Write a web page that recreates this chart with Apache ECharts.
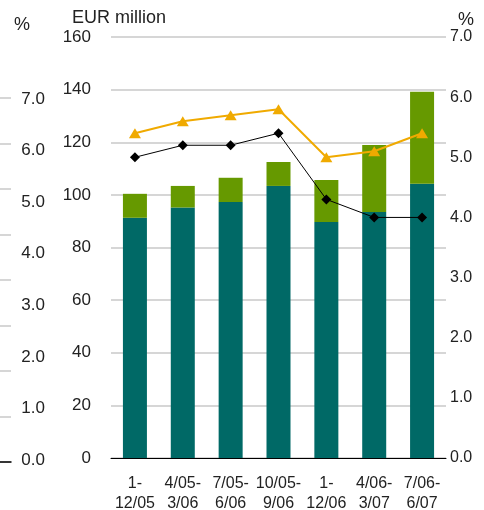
<!DOCTYPE html>
<html><head><meta charset="utf-8">
<script src="https://cdn.jsdelivr.net/npm/echarts@6/dist/echarts.min.js"></script>
<style>html,body{margin:0;padding:0;background:#fff}#c{width:484px;height:510px}</style>
</head><body><div id="c"></div>
<script>
var categories = ['1-\n12/05','4/05-\n3/06','7/05-\n6/06','10/05-\n9/06','1-\n12/06','4/06-\n3/07','7/06-\n6/07'];
var tealValues = [91.3, 95.2, 97.3, 103.4, 89.7, 93.5, 104.2];
var greenValues = [9.1, 8.2, 9.2, 9.1, 16.0, 25.5, 35.0];
var orangeLine = [5.4, 5.6, 5.7, 5.8, 5.0, 5.1, 5.4];
var blackLine = [5.0, 5.2, 5.2, 5.4, 4.3, 4.0, 4.0];
var eurTicks = [0, 160, 20];
var pctTicks = [0, 7, 1];

var NUM = '"Liberation Sans Narrow","Liberation Sans",Arial,sans-serif';
var TXT = '"Liberation Sans",Arial,sans-serif';
var chart = echarts.init(document.getElementById('c'), null, {renderer:'canvas'});
chart.setOption({
  animation:false,
  title:[
    {text:'EUR million', left:67, top:4, textStyle:{fontFamily:TXT,fontSize:18,fontWeight:'normal',color:'#222'}},
    {text:'%', left:9, top:11, textStyle:{fontFamily:TXT,fontSize:18,fontWeight:'normal',color:'#222'}},
    {text:'%', left:453, top:6, textStyle:{fontFamily:TXT,fontSize:18,fontWeight:'normal',color:'#222'}}
  ],
  grid:[
    {left:111, right:38, top:37, bottom:52, containLabel:false, outerBoundsMode:'none'},
    {left:46, width:1, top:99, bottom:50, containLabel:false, outerBoundsMode:'none'},
    {left:0, width:11, top:98, bottom:48, containLabel:false, outerBoundsMode:'none'}
  ],
  xAxis:[
    {type:'category', gridIndex:0, data:categories,
     axisLine:{lineStyle:{color:'#000',width:1}}, axisTick:{show:false},
     axisLabel:{margin:16, fontFamily:TXT, fontSize:16, color:'#222', lineHeight:20, interval:0}},
    {type:'value', gridIndex:1, show:false},
    {type:'value', gridIndex:2, min:0, max:1, axisLine:{show:true,lineStyle:{color:'#000',width:1.5}}, axisTick:{show:false}, axisLabel:{show:false}, splitLine:{show:false}}
  ],
  yAxis:[
    {type:'value', gridIndex:0, min:eurTicks[0], max:eurTicks[1], interval:eurTicks[2], position:'left',
     axisLine:{show:false}, axisTick:{show:false},
     axisLabel:{margin:20, fontFamily:NUM, fontSize:17, color:'#222'},
     splitLine:{lineStyle:{color:'#c8c8c8', width:1.5}}},
    {type:'value', gridIndex:0, min:pctTicks[0], max:pctTicks[1], interval:pctTicks[2], position:'right', offset:-6,
     axisLine:{show:false}, axisTick:{show:false}, splitLine:{show:false},
     axisLabel:{margin:10, fontFamily:NUM, fontSize:16, color:'#222', formatter:function(v){return v.toFixed(1);}}},
    {type:'value', gridIndex:1, min:pctTicks[0], max:pctTicks[1], interval:pctTicks[2], position:'left',
     axisLine:{show:false}, axisTick:{show:false}, splitLine:{show:false},
     axisLabel:{margin:1, fontFamily:NUM, fontSize:17, color:'#222', formatter:function(v){return v.toFixed(1);}}},
    {type:'value', gridIndex:2, min:0, max:8, interval:1,
     axisLine:{show:false}, axisTick:{show:false}, axisLabel:{show:false},
     splitLine:{show:true, lineStyle:{color:'#c8c8c8', width:1.5}}}
  ],
  series:[
    {type:'bar', stack:'s', data:tealValues, barWidth:24, itemStyle:{color:'#006966'}},
    {type:'bar', stack:'s', data:greenValues, barWidth:24, itemStyle:{color:'#669900'}},
    {type:'line', yAxisIndex:1, data:orangeLine, symbol:'triangle', symbolSize:[12,10],
     lineStyle:{color:'#f0aa00', width:2}, itemStyle:{color:'#f0aa00'}},
    {type:'line', yAxisIndex:1, data:blackLine, symbol:'diamond', symbolSize:10,
     lineStyle:{color:'#000', width:1}, itemStyle:{color:'#000'}}
  ]
});
</script></body></html>
